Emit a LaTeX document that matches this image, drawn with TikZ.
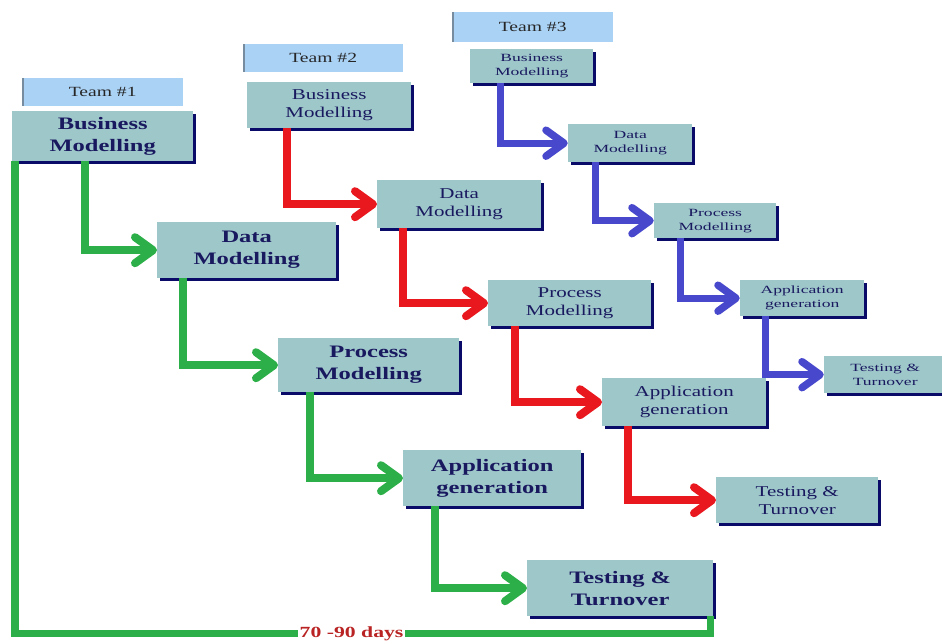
\documentclass[tikz,border=0pt]{standalone}
\usepackage{fontspec}
\setmainfont{Liberation Serif}
\newfontfamily\wideserif[FakeStretch=1.4]{Liberation Serif}
\newfontfamily\widerserif[FakeStretch=1.6]{Liberation Serif}
\usetikzlibrary{arrows.meta,shadows}
\definecolor{boxfill}{RGB}{158,199,202}
\definecolor{teamfill}{RGB}{170,210,245}
\definecolor{teamedge}{RGB}{120,140,160}
\definecolor{navy}{RGB}{10,10,105}
\definecolor{navytext}{RGB}{25,25,95}
\definecolor{cgreen}{RGB}{44,175,72}
\definecolor{cred}{RGB}{232,24,30}
\definecolor{cblue}{RGB}{72,72,205}
\definecolor{daysred}{RGB}{185,35,35}
\tikzset{
  box/.style={fill=boxfill, anchor=north west, inner sep=0pt, align=center, text=navytext,
    drop shadow={shadow xshift=2.5pt, shadow yshift=-2.5pt, fill=navy, opacity=1}},
  teambox/.style={fill=teamfill, anchor=north west, inner sep=0pt, align=center, text=black!85,
    font=\wideserif\fontsize{14}{16}\selectfont,
    path picture={\fill[teamedge] (path picture bounding box.north west) rectangle ([xshift=2pt]path picture bounding box.south west);}},
  fone/.style={font=\wideserif\bfseries\fontsize{17.5}{22}\selectfont},
  ftwo/.style={font=\wideserif\fontsize{15}{18}\selectfont},
  fthree/.style={font=\widerserif\fontsize{11}{14}\selectfont},
  conn/.style={line width=7.5pt, line join=miter},
  chev/.style={line cap=round, line join=round},
}
% chevron arrowhead: [line width] colour, target node
\newcommand\chevtip[3][8pt]{%
  \draw[chev, line width=#1, draw=#2] ([xshift=-22pt,yshift=13pt]#3.west) -- ([xshift=-4pt]#3.west) -- ([xshift=-22pt,yshift=-13pt]#3.west);}
\begin{document}
\begin{tikzpicture}[x=1pt,y=-1pt]
\useasboundingbox (0,0) rectangle (942,644);
\fill[white] (0,0) rectangle (942,644);
% Team 1
\node[teambox, minimum width=161, minimum height=28] (team1) at (22,78) {Team \#1};
\node[box, fone, minimum width=181, minimum height=50] (t1bm) at (12,111) {Business\\Modelling};
\node[box, fone, minimum width=179, minimum height=56] (t1dm) at (157,222) {Data\\Modelling};
\node[box, fone, minimum width=181, minimum height=54] (t1pm) at (278,338) {Process\\Modelling};
\node[box, fone, minimum width=178, minimum height=56] (t1ag) at (403,450) {Application\\generation};
\node[box, fone, minimum width=186, minimum height=56] (t1tt) at (527,560) {Testing \&\\Turnover};
% Team 2
\node[teambox, minimum width=160, minimum height=28] (team2) at (243,44) {Team \#2};
\node[box, ftwo, minimum width=164, minimum height=46] (t2bm) at (247,82) {Business\\Modelling};
\node[box, ftwo, minimum width=164, minimum height=48] (t2dm) at (377,180) {Data\\Modelling};
\node[box, ftwo, minimum width=163, minimum height=46] (t2pm) at (488,280) {Process\\Modelling};
\node[box, ftwo, minimum width=164, minimum height=48] (t2ag) at (602,378) {Application\\generation};
\node[box, ftwo, minimum width=162, minimum height=46] (t2tt) at (716,477) {Testing \&\\Turnover};
% Team 3
\node[teambox, minimum width=161, minimum height=30] (team3) at (452,12) {Team \#3};
\node[box, fthree, minimum width=123, minimum height=34] (t3bm) at (470,49) {Business\\Modelling};
\node[box, fthree, minimum width=124, minimum height=38] (t3dm) at (568,124) {Data\\Modelling};
\node[box, fthree, minimum width=122, minimum height=35] (t3pm) at (654,203) {Process\\Modelling};
\node[box, fthree, minimum width=124, minimum height=36] (t3ag) at (740,280) {Application\\generation};
\node[box, fthree, minimum width=122, minimum height=37] (t3tt) at (824,356) {Testing \&\\Turnover};
% Green connectors
\draw[conn, cgreen] ([xshift=73pt]t1bm.south west) |- ([xshift=-5pt]t1dm.west);
\draw[conn, cgreen] ([xshift=26pt]t1dm.south west) |- ([xshift=-5pt]t1pm.west);
\draw[conn, cgreen] ([xshift=32pt]t1pm.south west) |- ([xshift=-5pt]t1ag.west);
\draw[conn, cgreen] ([xshift=32pt]t1ag.south west) |- ([xshift=-5pt]t1tt.west);
\chevtip{cgreen}{t1dm}
\chevtip{cgreen}{t1pm}
\chevtip{cgreen}{t1ag}
\chevtip{cgreen}{t1tt}
\draw[cgreen, line width=7.5pt, line join=miter]
  ([xshift=3pt]t1bm.south west) |-
  node[pos=0.742, fill=white, inner sep=1.5pt, text=daysred, font=\wideserif\bfseries\fontsize{15.5}{16}\selectfont] (days) {70 -90 days}
  ([xshift=-3pt,yshift=-17pt]t1tt.south east) -- ([xshift=-3pt]t1tt.south east);
% Red connectors
\draw[conn, cred] ([xshift=40pt]t2bm.south west) |- ([xshift=-5pt]t2dm.west);
\draw[conn, cred] ([xshift=26pt]t2dm.south west) |- ([xshift=-5pt]t2pm.west);
\draw[conn, cred] ([xshift=27pt]t2pm.south west) |- ([xshift=-5pt]t2ag.west);
\draw[conn, cred] ([xshift=26pt]t2ag.south west) |- ([xshift=-5pt]t2tt.west);
\chevtip{cred}{t2dm}
\chevtip{cred}{t2pm}
\chevtip{cred}{t2ag}
\chevtip{cred}{t2tt}
% Blue connectors
\draw[conn, cblue, line width=7pt] ([xshift=30pt]t3bm.south west) |- ([xshift=-5pt]t3dm.west);
\draw[conn, cblue, line width=7pt] ([xshift=27pt]t3dm.south west) |- ([xshift=-5pt]t3pm.west);
\draw[conn, cblue, line width=7pt] ([xshift=26pt]t3pm.south west) |- ([xshift=-5pt]t3ag.west);
\draw[conn, cblue, line width=7pt] ([xshift=25pt]t3ag.south west) |- ([xshift=-5pt]t3tt.west);
\chevtip[7.5pt]{cblue}{t3dm}
\chevtip[7.5pt]{cblue}{t3pm}
\chevtip[7.5pt]{cblue}{t3ag}
\chevtip[7.5pt]{cblue}{t3tt}
\end{tikzpicture}
\end{document}
